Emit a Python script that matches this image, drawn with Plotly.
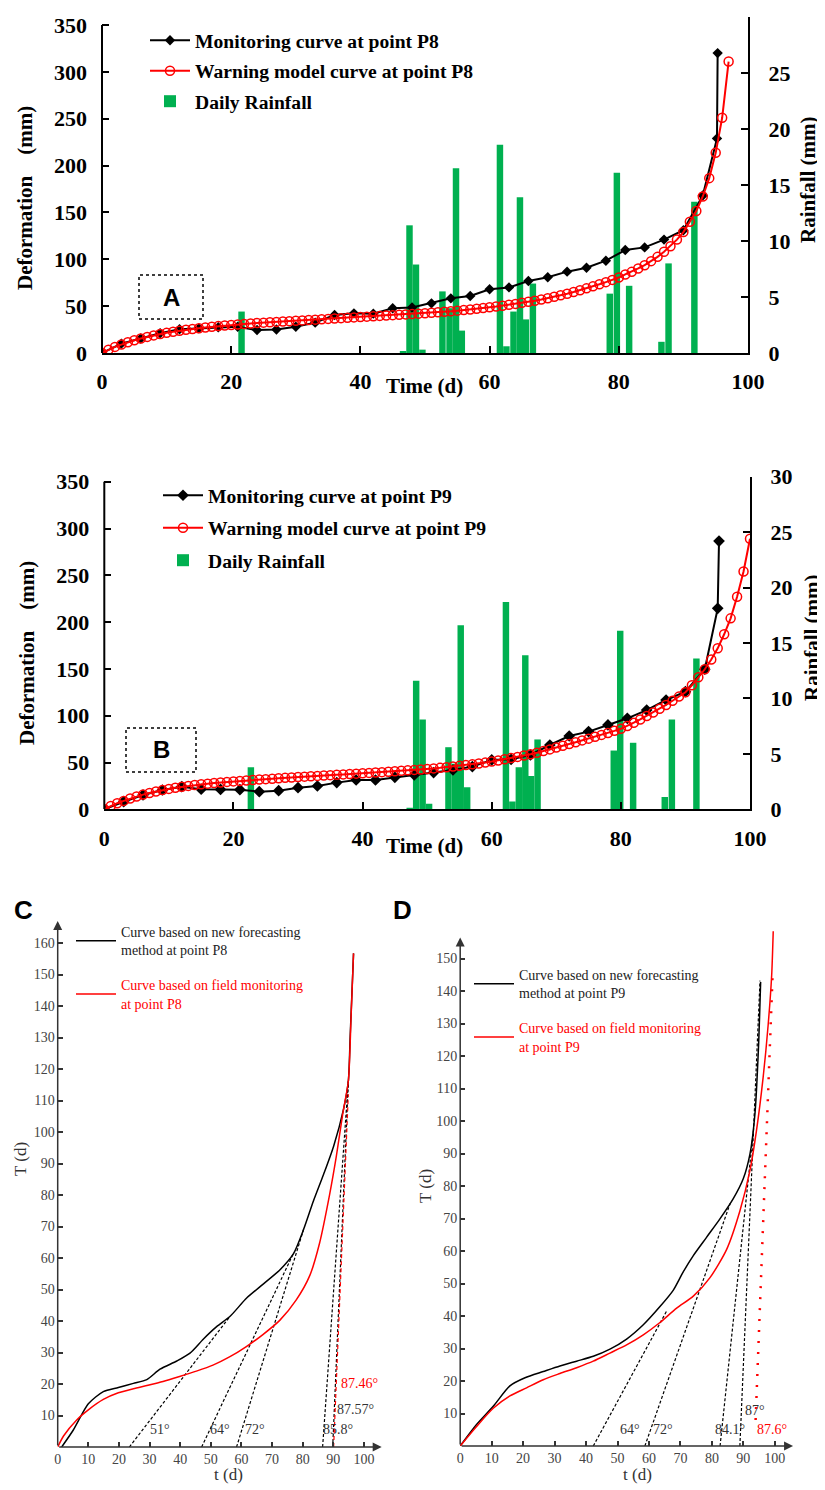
import plotly.graph_objects as go

W, H = 825, 1490
OFF = 8                      # page body margin offset of the rendered figure
FW, FH = W - OFF, H - OFF    # figure size so that it exactly fills the window
SERIF = "Liberation Serif"
SANS = "Liberation Sans"
GREEN = "rgb(0,176,80)"

# ======================= DATA =======================
# ---- Panel A : point P8 ----
a_model_days = list(range(0, 98))
a_model_mm = [0, 3.5, 6.5, 9, 11.5, 13.6, 15.5, 17.2, 18.8, 20.2,
              21.5, 22.7, 23.8, 24.8, 25.7, 26.5, 27.3, 28, 28.7, 29.3,
              29.9, 30.5, 31, 31.5, 32, 32.4, 32.8, 33.2, 33.6, 34,
              34.4, 34.8, 35.2, 35.6, 36, 36.4, 36.8, 37.2, 37.6, 38,
              38.4, 38.8, 39.2, 39.6, 40, 40.4, 40.8, 41.2, 41.6, 42,
              42.4, 42.9, 43.4, 44, 44.6, 45.2, 45.8, 46.5, 47.2, 48,
              48.8, 49.6, 50.5, 51.4, 52.4, 53.5, 54.6, 55.8, 57.1, 58.5,
              60, 61.6, 63.3, 65.1, 67, 69, 71.1, 73.3, 75.6, 78,
              80.5, 83.8, 86.6, 90.2, 93.7, 98, 102.6, 108, 114, 121,
              129, 140, 151.6, 167, 186.6, 213.6, 251, 311]
a_mon_days = [0, 3, 6, 9, 12, 15, 18, 21, 24, 27, 30, 33, 36, 39, 42, 45, 48,
              51, 54, 57, 60, 63, 66, 69, 72, 75, 78, 81, 84, 87, 90, 93, 95.2, 95.3]
a_mon_mm = [0, 10, 15.5, 21, 25.3, 26.3, 27.4, 28, 24.5, 25, 28, 32.4, 40.5, 42.3, 42, 47.7, 48.5,
            53, 58.3, 60.8, 68, 70, 76.8, 80.8, 86.8, 91, 98.5, 109.9, 112.7, 121, 131, 168, 229, 320]
a_rain_days = [21.6, 46.6, 47.6, 48.6, 49.6, 52.7, 53.8, 54.8, 55.7, 61.6, 62.6,
               63.7, 64.7, 65.6, 66.7, 78.6, 79.7, 81.6, 86.6, 87.7, 91.7]
a_rain_mm = [3.7, 0.1, 11.4, 7.9, 0.3, 5.5, 4.0, 16.5, 2.0, 18.6, 0.6,
             3.7, 13.9, 3.0, 6.2, 5.3, 16.1, 6.0, 1.0, 8.0, 13.5]

# ---- Panel B : point P9 ----
b_model_days = list(range(0, 101))
b_model_mm = [0, 3.5, 6.5, 9, 11.5, 13.7, 15.7, 17.5, 19.1, 20.5,
              21.8, 23, 24, 25, 25.9, 26.7, 27.4, 28.1, 28.7, 29.3,
              29.8, 30.3, 30.8, 31.3, 31.8, 32.2, 32.7, 33.1, 33.6, 34,
              34.5, 34.9, 35.3, 35.7, 36.1, 36.5, 36.9, 37.3, 37.7, 38.1,
              38.5, 38.9, 39.3, 39.7, 40.1, 40.6, 41.1, 41.6, 42.1, 42.6,
              43.1, 43.7, 44.3, 45, 45.7, 46.4, 47.2, 48, 48.9, 49.9,
              51, 52.2, 53.4, 54.7, 56, 57.4, 58.9, 60.5, 62.2, 64,
              66, 67.9, 69.8, 71.7, 73.6, 75.5, 77.5, 79.5, 81.6, 83.8,
              86, 89, 92.5, 96, 99.7, 103.5, 107.5, 111.5, 116, 120.4,
              125, 132.5, 141, 149.6, 160, 172, 187, 204, 227, 254,
              289]
b_mon_days = [0, 3, 6, 9, 12, 15, 18, 21, 24, 27, 30, 33, 36, 39, 42, 45, 48,
              51, 54, 57, 60, 63, 66, 69, 72, 75, 78, 81, 84, 87, 90, 93, 95, 95.2]
b_mon_mm = [0, 8.1, 15.3, 20.6, 24.2, 21.5, 21.2, 21, 18.8, 19.9, 23.1, 24.9, 28.5, 31.3, 31.3, 34.2, 36.7,
            39.2, 42, 45.6, 52.7, 53.4, 58, 68.7, 78.3, 83, 90.1, 97.2, 106, 116.8, 125.7, 149.6, 214.7, 286.6]
b_rain_days = [22.7, 47.3, 48.3, 49.3, 50.3, 53.3, 54.3, 55.2, 56.2, 62.2, 63.2,
               64.2, 65.2, 66.1, 67.1, 78.9, 79.9, 81.9, 86.8, 87.9, 91.7]
b_rain_mm = [3.8, 0.1, 11.6, 8.1, 0.5, 5.6, 4.1, 16.6, 2.0, 18.7, 0.7,
             3.8, 13.9, 3.0, 6.3, 5.3, 16.1, 6.0, 1.1, 8.1, 13.6]

ab_x_ticks = [0, 20, 40, 60, 80, 100]
ab_def_ticks = [0, 50, 100, 150, 200, 250, 300, 350]
ab_rain_ticks = [0, 5, 10, 15, 20, 25, 30]

# ---- Panel C : point P8, T-t curves ----
c_fore_t = [1.3, 5.1, 10, 14.9, 19.8, 24.7, 29.1, 33.4, 38.9, 43.2, 47.6, 51.9, 56.3,
            61.7, 67.2, 72.6, 77, 80.3, 83.5, 86.8, 90.1, 93.3, 94.9, 95.5, 96.6]
c_fore_T = [0, 5.4, 13.7, 17.6, 18.9, 20.2, 21.4, 24.7, 27.3, 29.8, 34.3, 38.2, 41.5,
            47.3, 51.8, 56.3, 61.4, 69.1, 78.1, 86.5, 95.5, 107.1, 116.1, 130.3, 156.7]
c_field_t = [0, 1.9, 6.2, 10, 14.9, 19.8, 24.7, 29.5, 34.4, 39.8, 45.3, 50.7, 56.1,
             61.6, 67, 72.5, 77.9, 82.3, 85.5, 88.8, 91, 93.1, 94.9, 95.8, 96.6]
c_field_T = [0, 3.5, 8.6, 11.8, 15.1, 17.2, 18.5, 19.6, 20.8, 22.4, 24.1, 26, 28.6,
             31.9, 35.7, 40.2, 46.7, 54.4, 64.7, 80.2, 92.4, 105.9, 116.1, 136.7, 156.7]
c_tan_t0 = [23.4, 47.0, 58.4, 86.5, 89.8]
c_tan_t1 = [56.3, 77.0, 80.3, 94.9, 94.9]
c_tan_T1 = [41.5, 61.5, 69.1, 116, 116]
c_red_tan_t = [90.1, 94.9]
c_red_tan_T = [0, 112]
c_angle_text = ["51°", "64°", "72°", "85.8°", "87.57°"]
c_angle_t = [33.4, 53.0, 64.4, 91.6, 97.1]
c_angle_T = [5.4, 5.4, 5.4, 5.4, 11.8]
c_red_angle_text = "87.46°"
c_red_angle_t = 98.7
c_red_angle_T = 20.2

# ---- Panel D : point P9, T-t curves ----
d_fore_t = [0, 5.2, 10.5, 15.8, 20.6, 26.4, 31.7, 37, 42.3, 47.6, 52.9, 58.2, 63.5,
            67.7, 70.9, 74.1, 78.3, 82.5, 86.8, 90, 92.1, 93.7, 94.8, 95.5]
d_fore_T = [0, 6.6, 12.2, 18.5, 21, 22.9, 24.6, 26.1, 27.6, 29.8, 32.9, 37.3, 42.9,
            47.9, 53.6, 58.6, 64.2, 69.8, 76.1, 82.3, 89.8, 102.3, 122.3, 142.8]
d_field_t = [0, 5.2, 10.5, 15.8, 21.1, 26.4, 31.7, 37, 42.3, 47.6, 52.9, 58.2, 63.5,
             68.8, 74.1, 79.4, 84.7, 88.9, 92.1, 94.2, 96.3, 97.9, 99, 99.5]
d_field_T = [0, 6, 11.6, 15.4, 17.9, 20.4, 22.3, 24.1, 26.1, 28.6, 31.1, 34.2, 38,
             42.4, 46.1, 51.8, 60.5, 72.3, 84.8, 97.2, 113.5, 129.7, 144.7, 158.4]
d_tan_t0 = [42.3, 58.7, 82.6, 88.9]
d_tan_t1 = [65.6, 85.8, 93.2, 95.3]
d_tan_T1 = [41.5, 74.6, 97, 143.2]
d_red_tan_t = [93.9, 99.3]
d_red_tan_T = [8, 145]
d_angle_text = ["64°", "72°", "84.1°", "87°"]
d_angle_t = [54.0, 64.6, 85.7, 93.7]
d_angle_T = [5, 5, 5, 11]
d_red_angle_text = "87.6°"
d_red_angle_t = 99.0
d_red_angle_T = 5

cd_x_ticks = [0, 10, 20, 30, 40, 50, 60, 70, 80, 90, 100]
c_y_ticks = [10, 20, 30, 40, 50, 60, 70, 80, 90, 100, 110, 120, 130, 140, 150, 160]
d_y_ticks = [10, 20, 30, 40, 50, 60, 70, 80, 90, 100, 110, 120, 130, 140, 150]

# ======================= LAYOUT GEOMETRY (window pixels) =======================
def px(x):
    return (x - OFF) / FW


def py(y):
    return 1 - (y - OFF) / FH


A = dict(x0=102, x1=748, ybot=353, ytop=17, y350=25)
B = dict(x0=104.3, x1=750, ybot=809.3, ytop=476.7, y350=481.7)
C = dict(x0=57.7, xs=3.0625, y0=1447, ys=3.15, xmax=107, ymax=170, xarrow=105.8, yarrow=167)
D = dict(x0=460.2, xs=3.146, y0=1446, ys=3.25, xmax=107, ymax=162, xarrow=105.8, yarrow=156.5)

fig = go.Figure()

bold_font = dict(family=SERIF, size=22, color="black", weight="bold")


def ab_axes(P, xa, ya_rain, ya_def, xname, yname_rain, yname_def):
    def_top = 350 * (P["ybot"] - P["ytop"]) / (P["ybot"] - P["y350"])
    common = dict(showgrid=False, zeroline=False, ticks="inside", ticklen=7, tickwidth=2,
                  tickcolor="black", tickfont=bold_font, automargin=False)
    fig.layout[xa] = dict(domain=[px(P["x0"]), px(P["x1"])], range=[0, 100], anchor=yname_rain,
                          tickvals=ab_x_ticks, showline=True, linecolor="black", linewidth=2,
                          ticklabelstandoff=8, **common)
    fig.layout[ya_rain] = dict(domain=[py(P["ybot"]), py(P["ytop"])], range=[0, 30], anchor=xname,
                               side="right", tickvals=ab_rain_ticks, showline=True, linecolor="black",
                               linewidth=2, ticklabelstandoff=14, **common)
    fig.layout[ya_def] = dict(range=[0, def_top], overlaying=yname_rain, anchor=xname, side="left",
                              tickvals=ab_def_ticks, showline=False, ticklabelstandoff=14, **common)
    return def_top


ab_axes(A, "xaxis", "yaxis", "yaxis2", "x", "y", "y2")
ab_axes(B, "xaxis2", "yaxis3", "yaxis4", "x2", "y3", "y4")

# ---- Panel A traces ----
fig.add_trace(go.Bar(x=a_rain_days, y=a_rain_mm, width=1.0, marker=dict(color=GREEN, line=dict(width=0)),
                     name="Daily Rainfall", xaxis="x", yaxis="y", legend="legend", legendrank=3,
                     legendgroup="a3"))
fig.add_trace(go.Scatter(x=a_mon_days, y=a_mon_mm, mode="lines+markers", name="Monitoring curve at point P8",
                         line=dict(color="black", width=2), marker=dict(symbol="diamond", size=8, color="black"),
                         xaxis="x", yaxis="y2", legend="legend", legendrank=1, legendgroup="a1"))
fig.add_trace(go.Scatter(x=a_model_days, y=a_model_mm, mode="lines+markers",
                         name="Warning model curve at point P8",
                         line=dict(color="red", width=2),
                         marker=dict(symbol="circle-open", size=9, color="red", line=dict(width=1.5)),
                         xaxis="x", yaxis="y2", legend="legend", legendrank=2, legendgroup="a2"))

# ---- Panel B traces ----
fig.add_trace(go.Bar(x=b_rain_days, y=b_rain_mm, width=1.0, marker=dict(color=GREEN, line=dict(width=0)),
                     name="Daily Rainfall", xaxis="x2", yaxis="y3", legend="legend2", legendrank=3,
                     legendgroup="b3"))
fig.add_trace(go.Scatter(x=b_mon_days, y=b_mon_mm, mode="lines+markers", name="Monitoring curve at point P9",
                         line=dict(color="black", width=2), marker=dict(symbol="diamond", size=9, color="black"),
                         xaxis="x2", yaxis="y4", legend="legend2", legendrank=1, legendgroup="b1"))
fig.add_trace(go.Scatter(x=b_model_days, y=b_model_mm, mode="lines+markers",
                         name="Warning model curve at point P9",
                         line=dict(color="red", width=2),
                         marker=dict(symbol="circle-open", size=9, color="red", line=dict(width=1.5)),
                         xaxis="x2", yaxis="y4", legend="legend2", legendrank=2, legendgroup="b2"))

legend_ab = dict(bgcolor="rgba(0,0,0,0)", borderwidth=0, xanchor="left", yanchor="top",
                 font=dict(family=SERIF, size=19.6, color="black", weight="bold"), itemwidth=40)
fig.layout.legend = dict(x=px(145), y=py(21), tracegroupgap=2, **legend_ab)
fig.layout.legend2 = dict(x=px(158), y=py(476), tracegroupgap=4, **legend_ab)

# ---- C / D axes ----
tick_font_cd = dict(family=SERIF, size=14, color="#444")


def cd_axes(P, xa, ya, xname, yname, yticks):
    fig.layout[xa] = dict(domain=[px(P["x0"]), px(P["x0"] + P["xmax"] * P["xs"])], range=[0, P["xmax"]],
                          anchor=yname, tickvals=cd_x_ticks, ticks="inside", ticklen=5, tickwidth=1.5,
                          tickcolor="#333", showline=False, showgrid=False, zeroline=False,
                          tickfont=tick_font_cd, ticklabelstandoff=2, automargin=False)
    fig.layout[ya] = dict(domain=[py(P["y0"]), py(P["y0"] - P["ymax"] * P["ys"])], range=[0, P["ymax"]],
                          anchor=xname, tickvals=yticks, ticks="inside", ticklen=5, tickwidth=1.5,
                          tickcolor="#333", showline=False, showgrid=False, zeroline=False,
                          tickfont=tick_font_cd, ticklabelstandoff=2, automargin=False)


cd_axes(C, "xaxis3", "yaxis5", "x3", "y5", c_y_ticks)
cd_axes(D, "xaxis4", "yaxis6", "x4", "y6", d_y_ticks)


def tangent_xy(t0, t1, T1):
    xs, ys = [], []
    for a, b, c in zip(t0, t1, T1):
        xs += [a, b, None]
        ys += [0, c, None]
    return xs, ys


# C traces
cx, cy = tangent_xy(c_tan_t0, c_tan_t1, c_tan_T1)
fig.add_trace(go.Scatter(x=cx, y=cy, mode="lines", line=dict(color="black", width=1.2, dash="3px,2px"),
                         xaxis="x3", yaxis="y5", showlegend=False, hoverinfo="skip"))
fig.add_trace(go.Scatter(x=c_red_tan_t, y=c_red_tan_T, mode="lines",
                         line=dict(color="red", width=1.2, dash="4px,3px"),
                         xaxis="x3", yaxis="y5", showlegend=False, hoverinfo="skip"))
fig.add_trace(go.Scatter(x=c_fore_t, y=c_fore_T, mode="lines", line=dict(color="black", width=1.5, shape="spline",
                                                                       smoothing=0.7),
                         name="Curve based on new forecasting<br>method at point P8",
                         xaxis="x3", yaxis="y5", legend="legend3", legendgroup="c1"))
fig.add_trace(go.Scatter(x=c_field_t, y=c_field_T, mode="lines", line=dict(color="red", width=1.5, shape="spline",
                                                                         smoothing=0.7),
                         name="<span style='color:red'>Curve based on field monitoring</span><br>"
                              "<span style='color:red'>at point P8</span>",
                         xaxis="x3", yaxis="y5", legend="legend3", legendgroup="c2"))

# D traces
dx, dy = tangent_xy(d_tan_t0, d_tan_t1, d_tan_T1)
fig.add_trace(go.Scatter(x=dx, y=dy, mode="lines", line=dict(color="black", width=1.2, dash="3px,2px"),
                         xaxis="x4", yaxis="y6", showlegend=False, hoverinfo="skip"))
fig.add_trace(go.Scatter(x=d_red_tan_t, y=d_red_tan_T, mode="lines",
                         line=dict(color="red", width=2.5, dash="2px,9px"),
                         xaxis="x4", yaxis="y6", showlegend=False, hoverinfo="skip"))
fig.add_trace(go.Scatter(x=d_fore_t, y=d_fore_T, mode="lines", line=dict(color="black", width=1.5, shape="spline",
                                                                       smoothing=0.7),
                         name="Curve based on new forecasting<br>method at point P9",
                         xaxis="x4", yaxis="y6", legend="legend4", legendgroup="d1"))
fig.add_trace(go.Scatter(x=d_field_t, y=d_field_T, mode="lines", line=dict(color="red", width=1.5, shape="spline",
                                                                         smoothing=0.7),
                         name="<span style='color:red'>Curve based on field monitoring</span><br>"
                              "<span style='color:red'>at point P9</span>",
                         xaxis="x4", yaxis="y6", legend="legend4", legendgroup="d2"))

legend_cd = dict(bgcolor="rgba(0,0,0,0)", borderwidth=0, xanchor="left", yanchor="top",
                 font=dict(family=SERIF, size=14, color="#222"), tracegroupgap=14, itemwidth=40)
fig.layout.legend3 = dict(x=px(71), y=py(916), **legend_cd)
fig.layout.legend4 = dict(x=px(469), y=py(959), **legend_cd)

# ======================= ANNOTATIONS & SHAPES =======================
ann = []


def ptext(x, y, text, size, family=SERIF, weight="bold", angle=0, color="black", xanchor="center"):
    ann.append(dict(x=px(x), y=py(y), xref="paper", yref="paper", text=text, showarrow=False,
                    font=dict(family=family, size=size, color=color, weight=weight), textangle=angle,
                    xanchor=xanchor, yanchor="middle"))


# A / B titles
ptext(25, 198, "Deformation\u3000(mm)", 21, angle=-90)
ptext(808, 180, "Rainfall (mm)", 21, angle=-90)
ptext(425, 386, "Time (d)", 21)
ptext(27, 653, "Deformation\u3000(mm)", 21, angle=-90)
ptext(812, 638, "Rainfall (mm)", 21, angle=-90)
ptext(425, 846, "Time (d)", 21)
ptext(171, 297, "A", 24, family=SANS)
ptext(161, 750, "B", 24, family=SANS)
# C / D titles
ptext(23, 910, "C", 26, family=SANS)
ptext(402, 910, "D", 26, family=SANS)
ptext(20, 1159, "T (d)", 17, weight="normal", angle=-90, color="#333")
ptext(228, 1474, "t (d)", 17, weight="normal", color="#333")
ptext(425, 1186, "T (d)", 17, weight="normal", angle=-90, color="#333")
ptext(637, 1474, "t (d)", 17, weight="normal", color="#333")

# angle labels in data coordinates
for txt, t, T in zip(c_angle_text, c_angle_t, c_angle_T):
    ann.append(dict(x=t, y=T, xref="x3", yref="y5", text=txt, showarrow=False,
                    font=dict(family=SERIF, size=14, color="#333")))
ann.append(dict(x=c_red_angle_t, y=c_red_angle_T, xref="x3", yref="y5", text=c_red_angle_text,
                showarrow=False, font=dict(family=SERIF, size=14, color="red")))
for txt, t, T in zip(d_angle_text, d_angle_t, d_angle_T):
    ann.append(dict(x=t, y=T, xref="x4", yref="y6", text=txt, showarrow=False,
                    font=dict(family=SERIF, size=14, color="#333")))
ann.append(dict(x=d_red_angle_t, y=d_red_angle_T, xref="x4", yref="y6", text=d_red_angle_text,
                showarrow=False, font=dict(family=SERIF, size=14, color="red")))

# axis arrows for C and D
for P, xr, yr in [(C, "x3", "y5"), (D, "x4", "y6")]:
    ann.append(dict(x=0, y=P["yarrow"], ax=0, ay=0, xref=xr, yref=yr, axref=xr, ayref=yr, text="",
                    showarrow=True, arrowhead=2, arrowsize=1.2, arrowwidth=1.5, arrowcolor="#333"))
    ann.append(dict(x=P["xarrow"], y=0, ax=0, ay=0, xref=xr, yref=yr, axref=xr, ayref=yr, text="",
                    showarrow=True, arrowhead=2, arrowsize=1.2, arrowwidth=1.5, arrowcolor="#333"))

shapes = []
# left deformation axis lines (0 to 350)
shapes.append(dict(type="line", xref="paper", yref="y2", x0=px(A["x0"]), x1=px(A["x0"]), y0=0, y1=350,
                   line=dict(color="black", width=2)))
shapes.append(dict(type="line", xref="paper", yref="y4", x0=px(B["x0"]), x1=px(B["x0"]), y0=0, y1=350,
                   line=dict(color="black", width=2)))
# dotted label boxes
shapes.append(dict(type="rect", xref="paper", yref="paper", x0=px(139), x1=px(203), y0=py(319), y1=py(275),
                   line=dict(color="black", width=1.5, dash="dot")))
shapes.append(dict(type="rect", xref="paper", yref="paper", x0=px(126), x1=px(196), y0=py(772), y1=py(728),
                   line=dict(color="black", width=1.5, dash="dot")))

fig.update_layout(width=FW, height=FH, margin=dict(l=0, r=0, t=0, b=0, pad=0, autoexpand=False), autosize=False,
                  paper_bgcolor="white", plot_bgcolor="white", barmode="overlay",
                  font=dict(family=SERIF), annotations=ann, shapes=shapes, showlegend=True)

fig.write_html("out.html")
